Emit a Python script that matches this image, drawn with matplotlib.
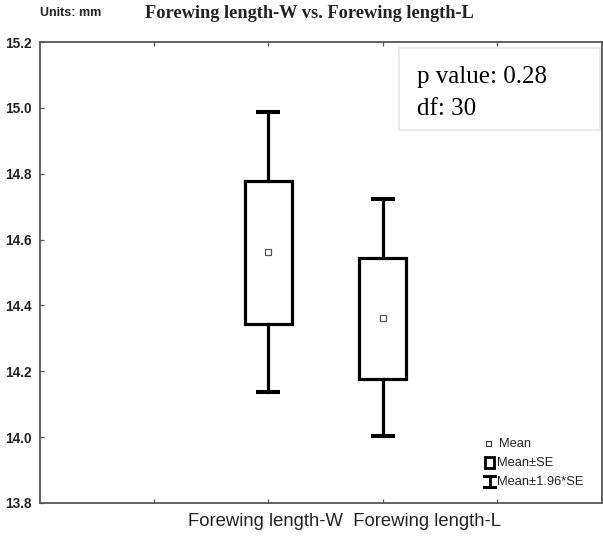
import matplotlib
matplotlib.use("Agg")
import matplotlib.pyplot as plt
from matplotlib.patches import Rectangle

# ---- data ----
categories = ["Forewing length-W", "Forewing length-L"]
means = [14.563, 14.362]
se_low = [14.345, 14.177]
se_high = [14.779, 14.545]
ci_low = [14.136, 14.002]
ci_high = [14.988, 14.723]
yticks = [13.8, 14.0, 14.2, 14.4, 14.6, 14.8, 15.0, 15.2]
p_value = "0.28"
df_value = "30"

W, H = 603, 537
fig = plt.figure(figsize=(W / 100, H / 100), dpi=100)
ax_l, ax_r, ax_t, ax_b = 40, 602, 42, 503
ax = fig.add_axes([ax_l / W, 1 - ax_b / H, (ax_r - ax_l) / W, (ax_b - ax_t) / H])

positions = [2, 3]
box_w = 0.41
cap_w = 0.21
lw = 2.3
for x, m, sl, sh, cl, ch in zip(positions, means, se_low, se_high, ci_low, ci_high):
    ax.add_patch(Rectangle((x - box_w / 2, sl), box_w, sh - sl, fill=False,
                           edgecolor="black", linewidth=lw, zorder=3, joinstyle="miter"))
    ax.plot([x, x], [sh, ch], color="black", lw=lw, zorder=2)
    ax.plot([x, x], [cl, sl], color="black", lw=lw, zorder=2)
    ax.plot([x - cap_w / 2, x + cap_w / 2], [ch, ch], color="black", lw=lw + 0.6,
            solid_capstyle="butt", zorder=2)
    ax.plot([x - cap_w / 2, x + cap_w / 2], [cl, cl], color="black", lw=lw + 0.6,
            solid_capstyle="butt", zorder=2)
    ax.plot([x], [m], marker="s", markersize=5, markerfacecolor="white",
            markeredgecolor="#555555", markeredgewidth=0.9, zorder=4, linestyle="none")

ax.set_xlim(0, 4.92)
ax.set_ylim(13.8, 15.2)
ax.set_xticks([1, 2, 3, 4])
ax.set_xticklabels([])
ax.set_yticks(yticks)
ax.set_yticklabels([f"{v:.1f}" for v in yticks], fontfamily="Liberation Sans",
                   fontweight="bold", fontsize=9.8, color="#222222")
ax.tick_params(axis="both", direction="in", length=3, width=0.9, color="#555555",
               top=True, right=False, pad=6)
for s in ax.spines.values():
    s.set_color("#555555")
    s.set_linewidth(1.3)

# category labels
fig.text(345 / W, 1 - 521 / H, "  ".join(categories), ha="center", va="center",
         fontfamily="Liberation Sans", fontsize=13.3, color="#222222")

# title and units
fig.text(309 / W, 1 - 13 / H, "Forewing length-W vs. Forewing length-L", ha="center",
         va="center", fontfamily="Liberation Serif", fontweight="bold", fontsize=13.2,
         color="#222222")
fig.text(40 / W, 1 - 13 / H, "Units: mm", ha="left", va="center",
         fontfamily="Liberation Sans", fontweight="bold", fontsize=9, color="#222222")

# p value box
fig.patches.append(Rectangle((399 / W, 1 - 130 / H), 201 / W, 82 / H, fill=True,
                             facecolor="white", edgecolor="#e6e6e6", linewidth=1.2,
                             transform=fig.transFigure, figure=fig, zorder=5))
fig.text(417 / W, 1 - 83 / H, f"p value: {p_value}", ha="left", va="baseline",
         fontfamily="Liberation Serif", fontsize=18, color="black", zorder=6)
fig.text(417 / W, 1 - 115 / H, f"df: {df_value}", ha="left", va="baseline",
         fontfamily="Liberation Serif", fontsize=18, color="black", zorder=6)

# legend (manual, figure pixel coords)
def fx(px):
    return px / W

def fy(py):
    return 1 - py / H

leg_font = dict(fontfamily="Liberation Sans", fontsize=9.3, color="#222222", va="center", ha="left")
fig.patches.append(Rectangle((fx(486), fy(446)), 5 / W, 5 / H, fill=False,
                             edgecolor="#333333", linewidth=0.8, transform=fig.transFigure, figure=fig))
fig.text(fx(499), fy(444), "Mean", **leg_font)
fig.patches.append(Rectangle((fx(485), fy(468)), 9 / W, 11 / H, fill=False,
                             edgecolor="black", linewidth=2.0, transform=fig.transFigure, figure=fig))
fig.text(fx(497), fy(463), "Mean\u00b1SE", **leg_font)
fig.lines.append(plt.Line2D([fx(484.5), fx(494.5)], [fy(476), fy(476)], color="black", lw=2.2,
                            transform=fig.transFigure, figure=fig))
fig.lines.append(plt.Line2D([fx(489.5), fx(489.5)], [fy(476), fy(487)], color="black", lw=2.0,
                            transform=fig.transFigure, figure=fig))
fig.lines.append(plt.Line2D([fx(484.5), fx(494.5)], [fy(487), fy(487)], color="black", lw=2.2,
                            transform=fig.transFigure, figure=fig))
fig.text(fx(497), fy(482), "Mean\u00b11.96*SE", **leg_font)

fig.savefig("out.png", dpi=100, facecolor="white")
